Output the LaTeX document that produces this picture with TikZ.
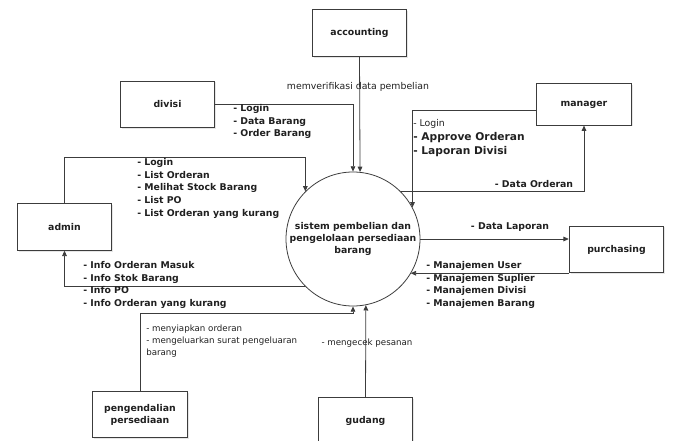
\documentclass[tikz,border=0pt]{standalone}
\usepackage{fontspec}
\setmainfont{DejaVu Sans}
\usetikzlibrary{arrows.meta, positioning, calc, shadows}
\definecolor{FlowLine}{HTML}{3C3C3C}
\definecolor{FlowText}{HTML}{202020}

\begin{document}
\begin{tikzpicture}[x=0.75pt, y=-0.75pt,
    entity/.style={
      rectangle, draw=FlowLine, line width=0.6pt, fill=white, minimum width=71pt,
      minimum height=35pt, align=center, font=\fontsize{7}{9}\selectfont\bfseries,
      text=FlowText, drop shadow={opacity=0.2, shadow xshift=1pt, shadow yshift=-1pt}
    },
    proc/.style={circle, draw=FlowLine, line width=0.6pt, fill=white, minimum size=100.5pt,
      inner sep=0pt, align=center, font=\fontsize{7}{9.3}\selectfont\bfseries, text=FlowText},
    flow/.style={draw=FlowLine, line width=0.6pt, -{Triangle[length=4pt, width=3.5pt]}},
    lbl/.style={align=left, inner sep=0pt, text=FlowText, font=\fontsize{7}{9.5}\selectfont\bfseries},
    note/.style={align=left, inner sep=0pt, text=FlowText, font=\fontsize{6.5}{9}\selectfont}
  ]
    \useasboundingbox (0,0) rectangle (673,441);

    % process
    \node[proc] (sys) at (353,239) {sistem pembelian dan\\pengelolaan persediaan\\barang};

    % external entities
    \node[entity] (accounting) at (359.5,33) {accounting};
    \node[entity] (divisi) at (167.5,104.5) {divisi};
    \node[entity, minimum height=31pt] (manager) at (584,104.5) {manager};
    \node[entity] (admin) at (64.5,227) {admin};
    \node[entity] (purchasing) at (616.5,249.5) {purchasing};
    \node[entity] (pengendalian) at (140,414.5) {pengendalian\\persediaan};
    \node[entity] (gudang) at (365.5,420.5) {gudang};

    % flows
    \draw[flow] (accounting.south) -- (sys.84);
    \draw[flow] (divisi.east) -| (sys.north);
    \draw[flow] (admin.north) -- ++(0,-46) -| (sys.north west);
    \draw[flow] (sys.south west) -| (admin.south);
    \draw[flow] ($(manager.west)+(0,6)$) -| (sys.28);
    \draw[flow] (sys.north east) -| (manager.south);
    \draw[flow] (sys.east) -- (sys.east -| purchasing.west);
    \path (sys.-31) coordinate (m1);
    \draw[flow] (purchasing.south west) -- (purchasing.south west -| m1);
    \draw[flow] (pengendalian.north) -- ++(0,-77) -| (sys.south);
    \draw[flow] (gudang.north) -- (sys.-79);

    % labels
    \node[note, font=\fontsize{7}{9}\selectfont] (lAcc) at (358,87) {memverifikasi data pembelian};
    \node[lbl, anchor=north west] (lDiv) at (233,104) {- Login\\- Data Barang\\- Order Barang};
    \node[lbl, anchor=north west] (lAdm) at (137,158) {- Login\\- List Orderan\\- Melihat Stock Barang\\- List PO\\- List Orderan yang kurang};
    \node[lbl, anchor=north west] (lInfo) at (83,261) {- Info Orderan Masuk\\- Info Stok Barang\\- Info PO\\- Info Orderan yang kurang};
    \node[lbl, anchor=north west, font=\fontsize{8}{10.5}\selectfont\bfseries] (lMgr) at (413,119)
      {{\fontsize{7}{9}\selectfont\mdseries - Login}\\- Approve Orderan\\- Laporan Divisi};
    \node[lbl] (lOrd) at (534,184) {- Data Orderan};
    \node[lbl] (lLap) at (510,227) {- Data Laporan};
    \node[lbl, anchor=north west] (lMan) at (426,261) {- Manajemen User\\- Manajemen Suplier\\- Manajemen Divisi\\- Manajemen Barang};
    \node[note, anchor=north west] (lPeng) at (146,325) {- menyiapkan orderan\\- mengeluarkan surat pengeluaran\\barang};
    \node[note] (lGud) at (367,343) {- mengecek pesanan};
\end{tikzpicture}
\end{document}
